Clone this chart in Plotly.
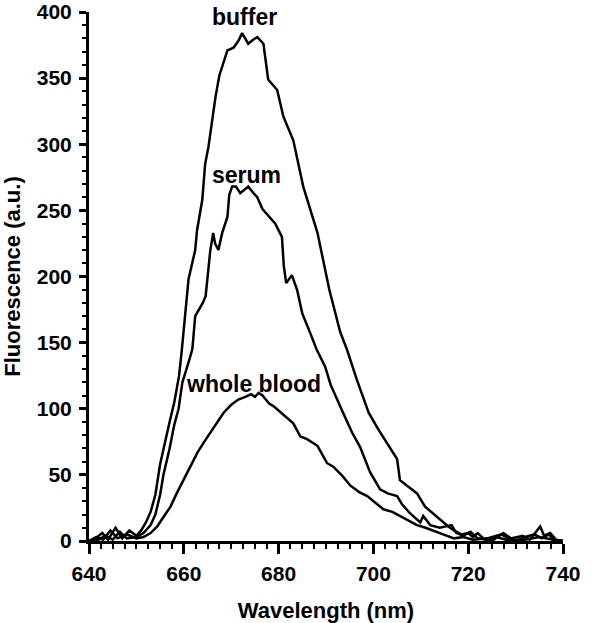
import plotly.graph_objects as go

# emission spectra (wavelength nm, fluorescence a.u.)
buffer_x = [640, 641, 642.8, 644, 645.6, 647, 648.5, 650, 651, 652, 653, 654, 655, 656, 657, 658,
            659, 659.6, 660.3, 661, 662.4, 662.8, 663.9, 664.5, 665.2, 666, 666.7, 667.5, 668.4,
            669.2, 670.5, 671.5, 672.3, 673.6, 674.6, 675.5, 676.8, 677.8, 679.7, 681, 683.1,
            685.2, 688.2, 690.7, 693, 694.4, 696.5, 699, 701.1, 703.2, 705, 705.6, 709.2, 710.9,
            714.1, 715.8, 717, 718.5, 720, 721, 722, 723.5, 725, 727.4, 729, 731.5, 733, 735.2,
            736, 737.3, 738.5, 740]
buffer_y = [0, 1, 6, 1, 10, 2, 8, 4, 8, 14, 22, 35, 58, 75, 90, 105,
            125, 145, 170, 198, 220, 235, 258, 285, 298, 320, 336, 352, 362,
            371, 373, 378, 384, 376, 379, 381, 376, 349, 341, 321, 303,
            268, 233, 190, 158, 145, 122, 97, 84, 72, 62, 46, 36, 26,
            16, 11, 8, 5, 6, 3, 6, 1, 0, 6, 2, 4, 1, 11,
            4, 6, 1, 0]

serum_x = [640, 642, 643.5, 645, 646.5, 648, 650, 651.5, 653, 654, 655, 655.7, 657, 658, 658.9,
           659.7, 661, 661.8, 662.4, 664, 664.6, 665.6, 666.2, 666.6, 667.3, 668.1, 669.2, 669.6,
           670.2, 671, 671.9, 672.8, 673.6, 674.7, 675.5, 676.6, 678, 679.3, 680.7, 681.1, 681.6,
           682.8, 683.9, 685, 686.7, 688, 689.8, 691, 693.6, 695.5, 697.2, 699.3, 701.4, 703,
           705, 706, 707.7, 709.9, 710.5, 712, 714, 716.5, 717.5, 719, 720.5, 722, 724, 726,
           728, 730, 732, 734, 735.5, 737, 738, 740]
serum_y = [0, 1, 4, 1, 7, 2, 3, 6, 12, 20, 35, 50, 70, 88, 100,
           120, 135, 145, 170, 180, 185, 220, 233, 225, 220, 233, 245, 262,
           268, 268, 263, 266, 268, 263, 260, 251, 245, 240, 230, 208, 195,
           201, 190, 172, 157, 145, 132, 118, 97, 82, 71, 52, 39, 36,
           34, 28, 21, 14, 19, 12, 10, 12, 6, 4, 7, 2, 1, 3,
           1, 0, 3, 5, 2, 5, 1, 0]

blood_x = [640, 641.5, 643, 644.5, 646, 648, 650, 651.5, 653, 654.4, 655.5, 657.2, 658.5, 659.9,
           661.5, 662.9, 664.3, 665.6, 667, 668.4, 670, 671.5, 673, 674.2, 675, 675.8, 676.6,
           678, 678.9, 680.5, 682, 683.1, 684.6, 686, 688.2, 690.2, 691.6, 693.5, 695.1, 697,
           698.7, 700.5, 702.1, 704, 706, 709.2, 711, 713, 714.7, 717, 719, 721, 724, 727, 729,
           732, 735, 738, 740]
blood_y = [0, 3, 1, 8, 2, 5, 2, 3, 6, 11, 17, 26, 36, 46,
           57, 67, 75, 82, 90, 97, 103, 107, 109, 111, 109, 112, 110,
           104, 102, 97, 93, 89, 79, 77, 72, 59, 56, 49, 42, 37,
           34, 29, 24, 22, 18, 12, 10, 7, 5, 2, 3, 1, 2, 5, 1,
           1, 3, 1, 0]

labels = ["buffer", "serum", "whole blood"]
label_x = [672.8, 673.2, 674.7]
label_y = [396, 277, 118.5]

fig = go.Figure()
for xs, ys, name in [(buffer_x, buffer_y, "buffer"), (serum_x, serum_y, "serum"), (blood_x, blood_y, "whole blood")]:
    fig.add_trace(go.Scatter(x=xs, y=ys, mode="lines", name=name, cliponaxis=False,
                             line=dict(color="black", width=2.5)))

for txt, lx, ly in zip(labels, label_x, label_y):
    fig.add_annotation(x=lx, y=ly, text=txt, showarrow=False, xanchor="center", yanchor="middle",
                       font=dict(family="Liberation Sans", size=23, color="black", weight="bold"))

tick_font = dict(family="Liberation Sans", size=21, color="black", weight="bold")
title_font = dict(family="Liberation Sans", size=22, color="black", weight="bold")

fig.update_layout(
    width=600, height=623,
    margin=dict(l=88.5, r=37, t=12, b=81.5),
    plot_bgcolor="white", paper_bgcolor="white",
    showlegend=False,
    xaxis=dict(range=[640, 740], dtick=20, tick0=640, showgrid=False, zeroline=False,
               automargin=False,
               showline=True, linewidth=3, linecolor="black",
               ticks="outside", ticklen=10, tickwidth=2.5, tickcolor="black",
               minor=dict(dtick=2.5, ticks="outside", ticklen=5, tickwidth=2, tickcolor="black"),
               tickfont=tick_font, ticklabelstandoff=2,
               title=dict(text="Wavelength (nm)", font=title_font, standoff=19)),
    yaxis=dict(range=[0, 400], dtick=50, tick0=0, showgrid=False, zeroline=False,
               automargin=False,
               showline=True, linewidth=3, linecolor="black",
               ticks="outside", ticklen=7, tickwidth=2.5, tickcolor="black",
               minor=dict(dtick=10, ticks="outside", ticklen=4, tickwidth=2, tickcolor="black"),
               tickfont=tick_font, ticklabelstandoff=3,
               title=dict(text="Fluorescence (a.u.)", font=title_font, standoff=27)),
)

# drop the browser's default 8px body margin so the figure sits at the window corner
fig.write_html("out.html", config={"displayModeBar": False},
               post_script="document.body.style.margin='0';")
